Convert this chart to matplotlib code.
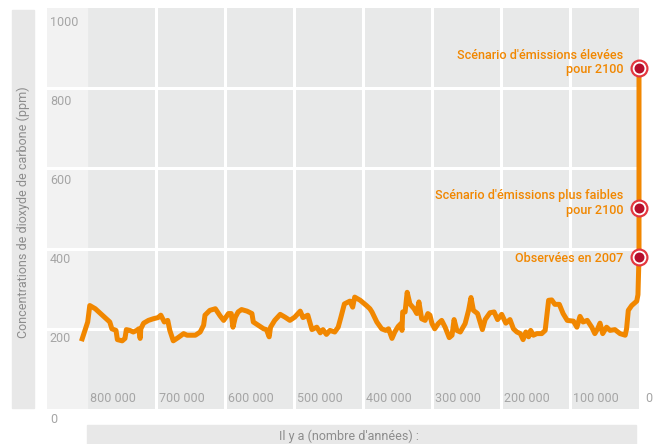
import matplotlib.pyplot as plt
from matplotlib.patches import Rectangle

plt.rcParams['font.family'] = ['Roboto', 'DejaVu Sans']

# donnees (milliers d'annees avant aujourd'hui, ppm)
ice_kyr = [807, 799, 796, 788, 774, 767, 764, 758, 756, 749, 745, 743, 738, 733, 728,
           725, 723, 722, 718, 711, 704, 697, 693, 688, 683, 680, 675, 668, 660, 655,
           643, 636, 631, 629, 622, 614, 607, 602, 595, 591, 588.5, 585, 581, 576, 568,
           561, 559, 552, 544, 540, 536, 534, 528, 520, 513, 506, 499, 491, 487, 480,
           474, 467, 462, 458, 453, 448, 441, 436, 432, 427, 419, 415, 412, 404, 395,
           390, 387, 380, 373, 367, 363, 358, 354, 349, 345, 343.5, 342.5, 339, 336, 332,
           326, 322, 319, 315, 310, 306, 303, 300, 296, 291, 286, 281, 275, 271, 268,
           264, 259, 252, 247, 243.5, 240, 234, 227, 223, 216, 210, 205, 199, 193, 187,
           182, 177, 172, 168, 164, 160, 157, 153, 148, 141, 136, 131, 126.5, 122, 115.5,
           110, 104, 95, 90, 85.5, 81, 75, 68.5, 64, 60, 56.5, 52.6, 47, 42, 35,
           27.5, 20, 18, 15.5, 10.6, 3.3, 1.5]
ice_ppm = [175, 217, 258, 250, 228, 217, 200, 196, 173, 170, 176, 198, 196, 192, 196,
           200, 176, 200, 214, 221, 225, 228, 234, 217, 221, 196, 170, 178, 188, 184,
           184, 192, 209, 234, 246, 250, 232, 221, 238, 238, 204, 229, 242, 248, 244,
           238, 217, 209, 200, 198, 180, 204, 221, 236, 229, 221, 229, 244, 228, 234,
           198, 204, 190, 198, 186, 196, 192, 204, 229, 262, 269, 254, 279, 271, 258,
           250, 242, 217, 200, 196, 200, 176, 192, 206, 213, 196, 242, 242, 291, 262,
           250, 238, 267, 225, 221, 238, 234, 213, 200, 213, 221, 204, 178, 184, 223,
           196, 192, 213, 246, 278, 246, 238, 198, 223, 240, 242, 223, 236, 214, 223,
           200, 192, 188, 173, 192, 180, 196, 184, 188, 188, 196, 271, 272, 261, 261,
           238, 221, 219, 204, 231, 217, 221, 204, 188, 200, 214, 188, 204, 196, 198,
           188, 184, 200, 246, 258, 269, 285]

# points de 2007 et scenarios 2100
point_ppm = [380, 500, 850]
point_labels = ["Observées en 2007",
                "Scénario d'émissions plus faibles\npour 2100",
                "Scénario d'émissions élevées\npour 2100"]

y_ticks = [200, 400, 600, 800, 1000]
x_ticks = [800, 700, 600, 500, 400, 300, 200, 100]
x_tick_labels = ["800 000", "700 000", "600 000", "500 000", "400 000",
                 "300 000", "200 000", "100 000"]

orange = '#F18700'
grey_txt = '#A5A5A5'
W, H = 660, 444

fig = plt.figure(figsize=(6.6, 4.44), dpi=100)
ax = fig.add_axes([47 / W, 1 - 409 / H, 592 / W, 401 / H])
ax.set_xlim(858, 0)
ax.set_ylim(0, 1000)
ax.set_facecolor('#E8E9E9')
for s in ax.spines.values():
    s.set_visible(False)
ax.set_xticks([])
ax.set_yticks([])

# bande claire des etiquettes y
ax.axvspan(800, 858, color='#F2F2F2', zorder=0)
for v in [100, 200, 300, 400, 500, 600, 700]:
    ax.axvline(v, color='white', lw=2.2, zorder=1)
for v in [200, 400, 600, 800]:
    ax.axhline(v, color='white', lw=2.2, zorder=1)

for v in y_ticks:
    off = 24 + (v - 200) / 800 * 12
    ax.text(854, v - off, str(v), color=grey_txt, fontsize=9, va='center', ha='left')
ax.text(854, -25, "0", color=grey_txt, fontsize=9, va='center', ha='left', clip_on=False)
for v, lab in zip(x_ticks, x_tick_labels):
    ax.text(v - 4, 27, lab, color=grey_txt, fontsize=9, va='center', ha='left')
ax.text(-9, 27, "0", color=grey_txt, fontsize=9, va='center', ha='left', clip_on=False)

# courbe
xs = ice_kyr + [0, 0]
ys = ice_ppm + [point_ppm[0], point_ppm[-1]]
ax.plot(xs, ys, color=orange, lw=3.6, solid_joinstyle='round', zorder=3, clip_on=False)

for v, lab in zip(point_ppm, point_labels):
    ax.plot(0, v, 'o', ms=13, color='#E4373F', mec='none', zorder=4, clip_on=False)
    ax.plot(0, v, 'o', ms=8.5, color='#B50E2C', mec='white', mew=1.3, zorder=5, clip_on=False)
    nl = lab.count("\n")
    ax.text(23, v - 5 + nl * 18.5, lab, color=orange, fontsize=9.1, fontweight='medium',
            ha='right', va='center', linespacing=1.15)

# titre y dans bande grise
fig.patches.append(Rectangle((12 / W, 1 - 408 / H), 22 / W, 398 / H,
                             transform=fig.transFigure, color='#E8E8E8', zorder=0))
fig.text(23 / W, 1 - 212 / H, "Concentrations de dioxyde de carbone (ppm)",
         rotation=90, ha='center', va='center', color='#8C8C8C', fontsize=9)

# titre x dans bande grise
fig.patches.append(Rectangle((87 / W, 0), 549 / W, 19 / H,
                             transform=fig.transFigure, color='#E8E8E8', zorder=0))
fig.text(349 / W, 1 - 436 / H, "Il y a (nombre d'années) :",
         ha='center', va='center', color='#8C8C8C', fontsize=9)

fig.savefig('out.png', dpi=100)
